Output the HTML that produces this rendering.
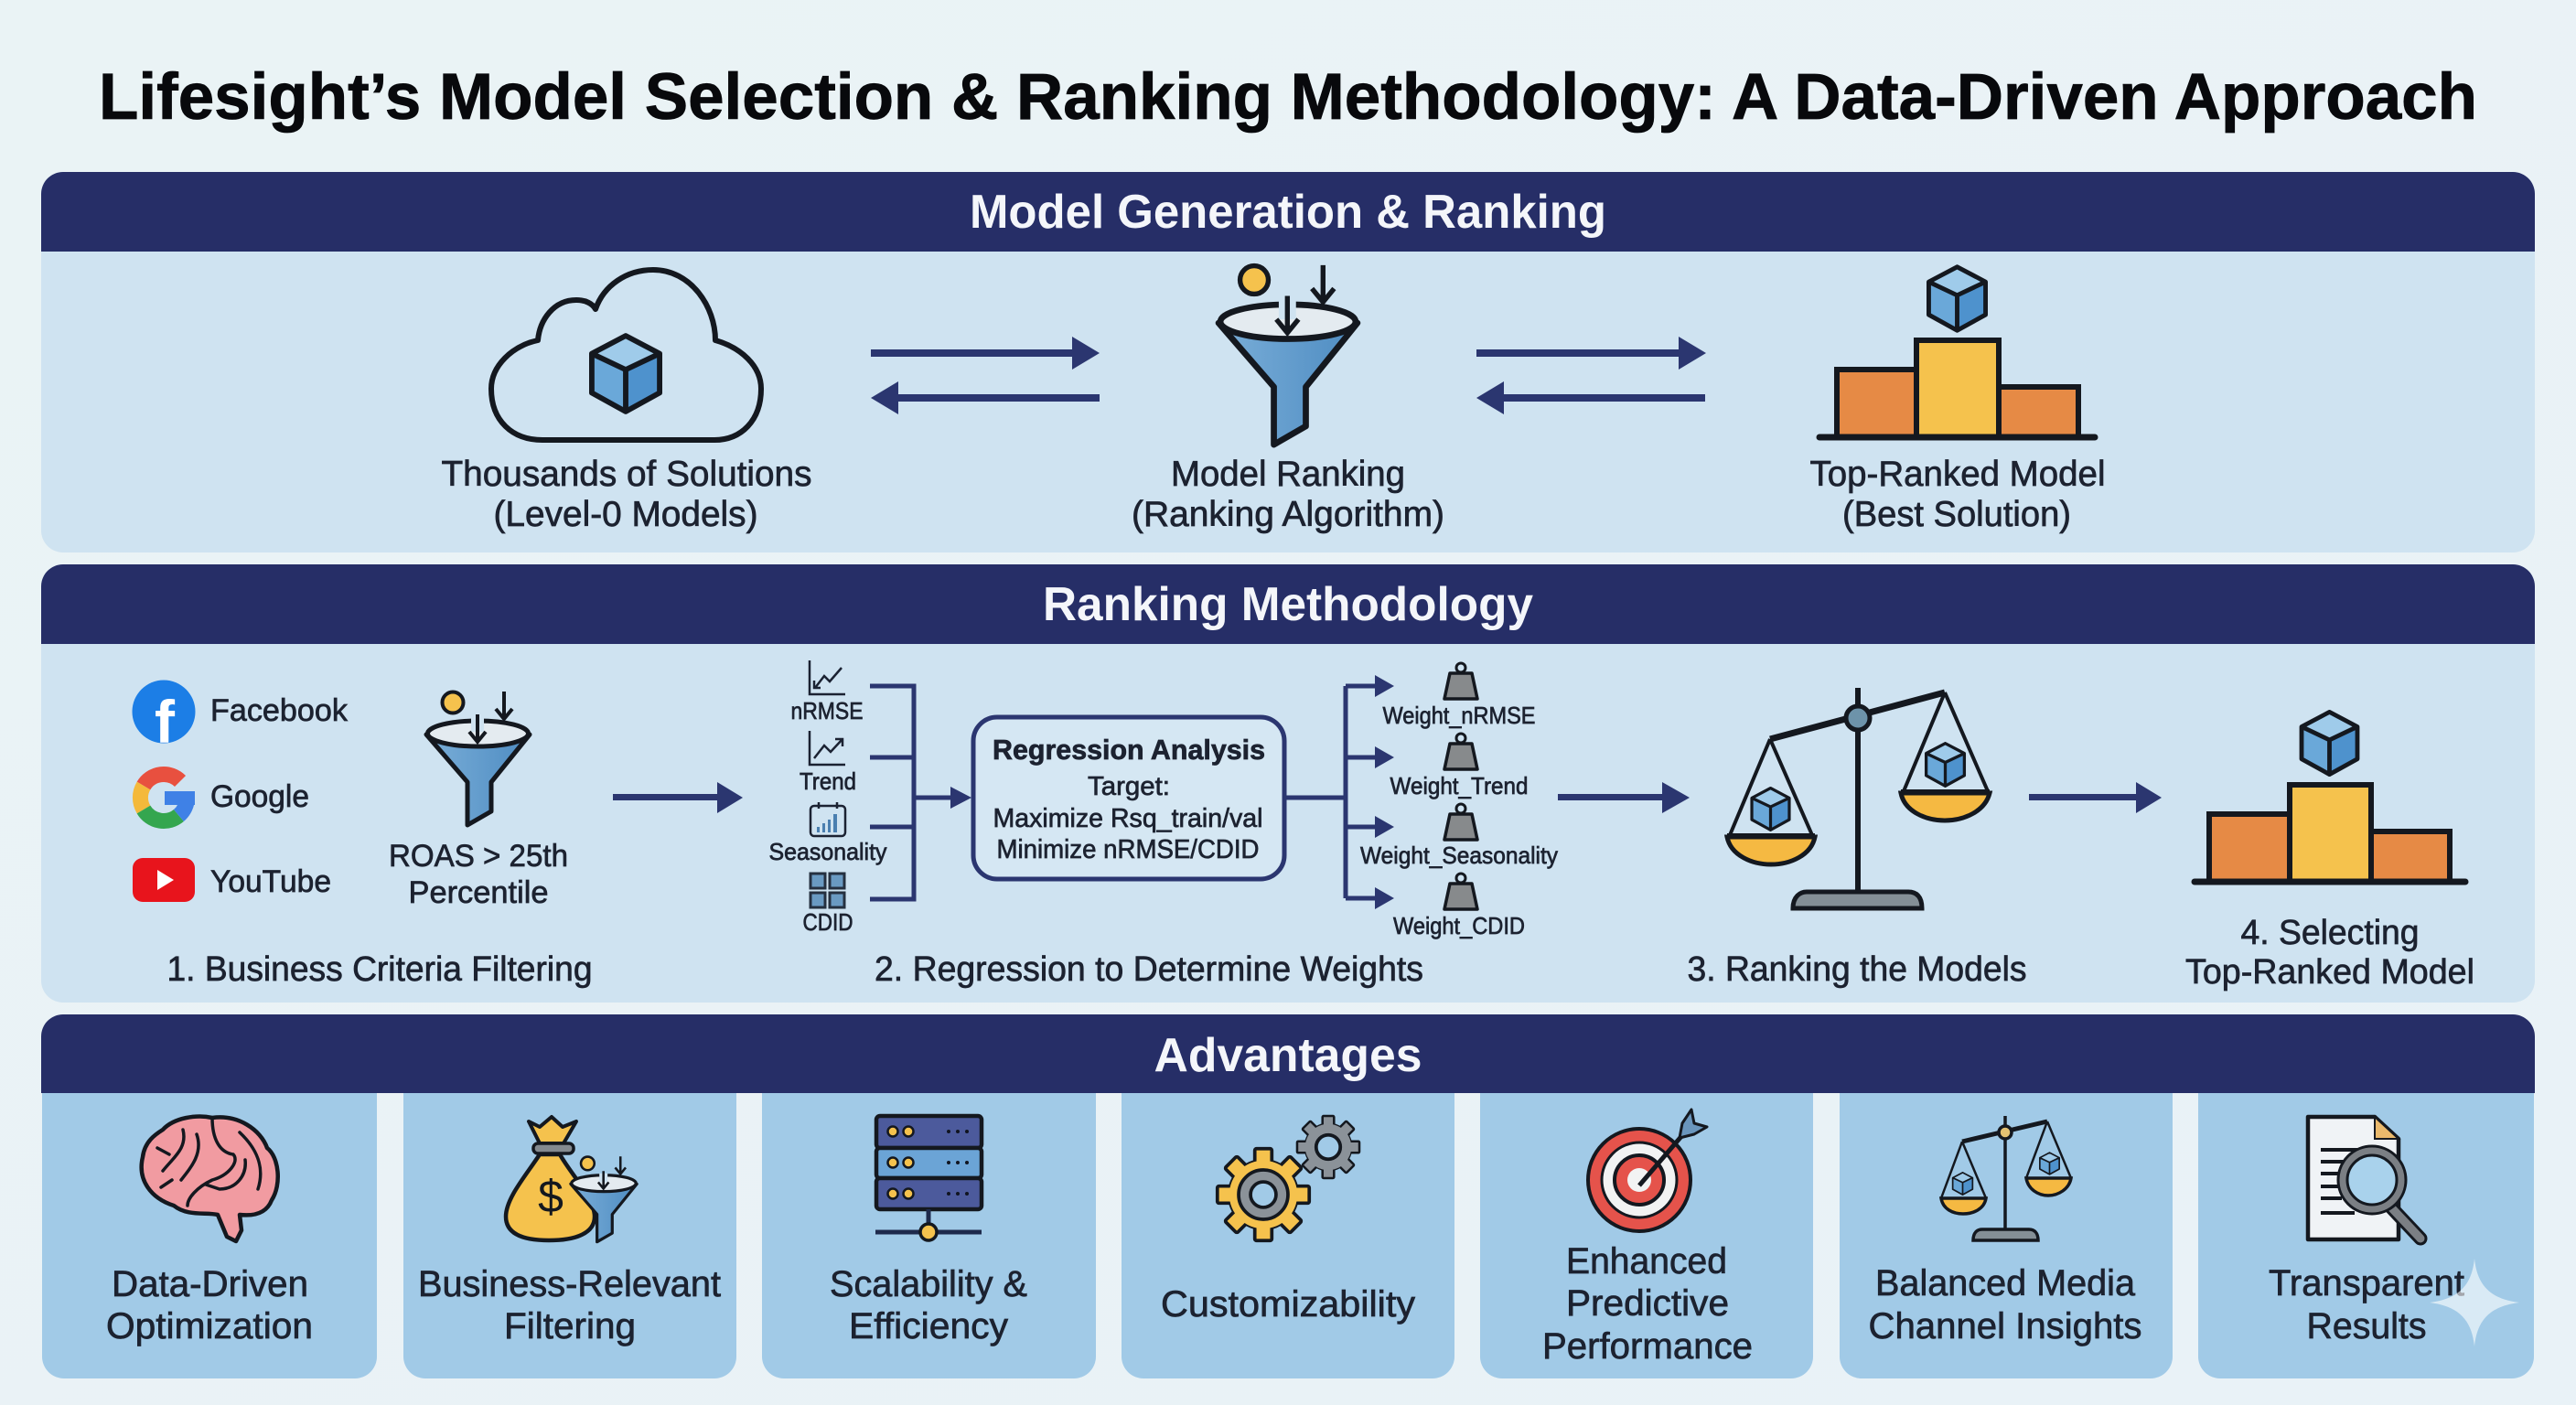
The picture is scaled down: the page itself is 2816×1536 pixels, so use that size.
<!DOCTYPE html>
<html><head><meta charset="utf-8"><title>Lifesight's Model Selection &amp; Ranking Methodology</title>
<style>
html,body{margin:0;padding:0;width:2816px;height:1536px;overflow:hidden;background:#eaf3f6}
svg{display:block}
text{font-family:"Liberation Sans",sans-serif;text-anchor:middle;fill:#1c2230;stroke:#1c2230;stroke-width:.7px}
.title{font-size:71px;font-weight:700;fill:#08090c;stroke:#08090c;stroke-width:.8px}
.hd{font-size:52px;font-weight:700;fill:#f4f6fa;stroke:none}
.l{font-size:39px}
.m{font-size:34px}
.s{font-size:26px}
.w{font-size:26px}
.card{font-size:40px}
.b{font-size:31px;font-weight:700}
</style></head><body>
<svg xmlns="http://www.w3.org/2000/svg" width="2816" height="1536" viewBox="0 0 2816 1536">
<defs>
<linearGradient id="bg" x1="0" y1="0" x2="1" y2="1"><stop offset="0" stop-color="#eaf3f5"/><stop offset="1" stop-color="#e9f2f7"/></linearGradient>
<linearGradient id="cone" x1="0" y1="0" x2="1" y2="0"><stop offset="0" stop-color="#7aaed8"/><stop offset="1" stop-color="#4e8cc2"/></linearGradient>
<symbol id="cube" viewBox="-3 -3 82 91">
<path d="M38 0L76 20V64L38 85L0 64V20Z" fill="#6aa8d9"/>
<path d="M38 0L76 20L38 38L0 20Z" fill="#9fcbea"/>
<path d="M38 38L76 20V64L38 85Z" fill="#4e92cd"/>
<path d="M38 0L76 20V64L38 85L0 64V20ZM0 20L38 38L76 20M38 38V85" fill="none" stroke="#14181f" stroke-width="6" stroke-linejoin="round"/>
</symbol>
<symbol id="funnel" viewBox="460 745 125 165">
<path d="M466 803L511 855V902L537 887V855L579 803Z" fill="url(#cone)" stroke="#14181f" stroke-width="5" stroke-linejoin="round"/>
<ellipse cx="522.5" cy="802" rx="55" ry="14" fill="#e4ebf0" stroke="#14181f" stroke-width="5"/>
<circle cx="495" cy="768" r="11.500" fill="#f5c24d" stroke="#14181f" stroke-width="4"/>
<path d="M522 785V800" stroke="#cfe3f1" stroke-width="14"/>
<path d="M522 781V810M513 800L522 811L531 800" fill="none" stroke="#14181f" stroke-width="4"/>
<path d="M551 756V786M542 775L551 786L560 775" fill="none" stroke="#14181f" stroke-width="4"/>
</symbol>
<symbol id="weight" viewBox="1575 722 44 46">
<circle cx="1597" cy="730" r="5" fill="none" stroke="#14181f" stroke-width="3"/>
<path d="M1585 736H1609L1615 764H1579Z" fill="#878a8c" stroke="#14181f" stroke-width="3.500" stroke-linejoin="round"/>
</symbol>
<g id="teeth" stroke="#14181f" stroke-width="4">
<rect x="-10" y="-54" width="20" height="108" rx="2"/>
<rect x="-10" y="-54" width="20" height="108" rx="2" transform="rotate(45)"/>
<rect x="-10" y="-54" width="20" height="108" rx="2" transform="rotate(90)"/>
<rect x="-10" y="-54" width="20" height="108" rx="2" transform="rotate(135)"/>
</g>
</defs>

<rect width="2816" height="1536" fill="url(#bg)"/>
<text class="title" x="1408" y="130" textLength="2600" lengthAdjust="spacingAndGlyphs">Lifesight’s Model Selection &amp; Ranking Methodology: A Data-Driven Approach</text>

<!-- Panel 1 -->
<rect x="45" y="188" width="2726" height="416" rx="24" fill="#cfe3f1"/>
<path d="M45 275V212A24 24 0 0 1 69 188H2747A24 24 0 0 1 2771 212V275Z" fill="#262e67"/>
<text class="hd" x="1408" y="249" textLength="696" lengthAdjust="spacingAndGlyphs">Model Generation &amp; Ranking</text>

<path d="M593 481C560 481 537 460 537 425C537 400 560 378 588 372C590 350 605 328 630 328C640 328 648 332 651 338C660 312 685 295 714 295C755 295 782 335 782 372C810 380 832 400 832 425C832 460 810 481 781 481Z" fill="none" stroke="#14181f" stroke-width="6" stroke-linejoin="round"/>
<use href="#cube" x="644" y="364" width="80" height="89"/>
<text class="l" x="685" y="531" textLength="405" lengthAdjust="spacingAndGlyphs">Thousands of Solutions</text>
<text class="l" x="684" y="575" textLength="289" lengthAdjust="spacingAndGlyphs">(Level-0 Models)</text>

<g fill="#2b3670">
<rect x="952" y="382" width="224" height="8"/><polygon points="1172,368 1202,386 1172,404"/>
<rect x="978" y="431" width="224" height="8"/><polygon points="982,417 952,435 982,453"/>
<rect x="1614" y="382" width="224" height="8"/><polygon points="1835,368 1865,386 1835,404"/>
<rect x="1640" y="431" width="224" height="8"/><polygon points="1644,417 1614,435 1644,453"/>
</g>

<use href="#funnel" x="1324" y="275" width="168" height="222"/>
<text class="l" x="1408" y="531" textLength="256" lengthAdjust="spacingAndGlyphs">Model Ranking</text>
<text class="l" x="1408" y="575" textLength="342" lengthAdjust="spacingAndGlyphs">(Ranking Algorithm)</text>

<use href="#cube" x="2106" y="289" width="67" height="75"/>
<g stroke="#14181f" stroke-width="6">
<rect x="2008" y="404" width="87" height="74" fill="#e68a45"/>
<rect x="2095" y="372" width="90" height="106" fill="#f5c24d"/>
<rect x="2185" y="423" width="87" height="55" fill="#e68a45"/>
<path d="M1989 478H2290" stroke-width="7" stroke-linecap="round"/>
</g>
<text class="l" x="2140" y="531" textLength="323" lengthAdjust="spacingAndGlyphs">Top-Ranked Model</text>
<text class="l" x="2139" y="575" textLength="250" lengthAdjust="spacingAndGlyphs">(Best Solution)</text>

<!-- Panel 2 -->
<rect x="45" y="617" width="2726" height="479" rx="24" fill="#cfe3f1"/>
<path d="M45 704V641A24 24 0 0 1 69 617H2747A24 24 0 0 1 2771 641V704Z" fill="#262e67"/>
<text class="hd" x="1408" y="678" textLength="536" lengthAdjust="spacingAndGlyphs">Ranking Methodology</text>

<circle cx="179" cy="778" r="34.500" fill="#1c7ee6"/>
<text x="180" y="812" style="font-size:66px;font-weight:700;fill:#fff;stroke:none">f</text>
<text class="m" x="305" y="788" textLength="150" lengthAdjust="spacingAndGlyphs">Facebook</text>

<g fill="none" stroke-width="17">
<path d="M197 854A25.500 25.500 0 0 0 157 859" stroke="#e8503f"/>
<path d="M157 859A25.500 25.500 0 0 0 157 885" stroke="#f4b93b"/>
<path d="M157 885A25.500 25.500 0 0 0 195.400 891.500" stroke="#34a64f"/>
<path d="M195.400 891.500A25.500 25.500 0 0 0 204.500 872" stroke="#3f81e6"/>
</g>
<rect x="180" y="865" width="33" height="15" fill="#3f81e6"/>
<text class="m" x="284" y="882" textLength="108" lengthAdjust="spacingAndGlyphs">Google</text>

<rect x="145" y="938" width="68" height="48" rx="11" fill="#e8141c"/>
<polygon points="172,951 172,973 190,962" fill="#fff"/>
<text class="m" x="296" y="975" textLength="132" lengthAdjust="spacingAndGlyphs">YouTube</text>

<use href="#funnel" x="460" y="745" width="125" height="165"/>
<text class="m" x="523" y="947" textLength="196" lengthAdjust="spacingAndGlyphs">ROAS &gt; 25th</text>
<text class="m" x="523" y="987" textLength="153" lengthAdjust="spacingAndGlyphs">Percentile</text>
<text class="m" x="415" y="1072" style="font-size:38px" textLength="465" lengthAdjust="spacingAndGlyphs">1. Business Criteria Filtering</text>

<g fill="#2b3670">
<rect x="670" y="868" width="118" height="7"/><polygon points="784,855 812,872 784,889"/>
<rect x="1703" y="868" width="118" height="7"/><polygon points="1817,855 1847,872 1817,889"/>
<rect x="2218" y="868" width="121" height="7"/><polygon points="2335,855 2363,872 2335,889"/>
</g>

<!-- metric icons -->
<g fill="none" stroke="#1b2232" stroke-width="2.500">
<path d="M885 722V759H924"/>
<path d="M891 752L901 739L907 745L920 730"/>
<path d="M890 744V752H897"/>
<path d="M885 799V836H924"/>
<path d="M890 829L901 815L908 822L921 808M913 808H921V816"/>
<rect x="886" y="881" width="38" height="33" rx="4"/>
<path d="M895 877V884M915 877V884"/>
</g>
<g fill="#4a7fb0">
<rect x="893" y="904" width="3" height="6"/><rect x="899" y="900" width="3" height="10"/><rect x="905" y="896" width="3" height="14"/><rect x="911" y="890" width="4" height="20"/>
</g>
<g fill="#6a9ac2" stroke="#253040" stroke-width="3">
<rect x="886" y="955" width="16" height="16"/><rect x="907" y="955" width="16" height="16"/>
<rect x="886" y="976" width="16" height="16"/><rect x="907" y="976" width="16" height="16"/>
</g>
<text class="s" x="904" y="786" textLength="79" lengthAdjust="spacingAndGlyphs">nRMSE</text>
<text class="s" x="905" y="863" textLength="62" lengthAdjust="spacingAndGlyphs">Trend</text>
<text class="s" x="905" y="940" textLength="129" lengthAdjust="spacingAndGlyphs">Seasonality</text>
<text class="s" x="905" y="1017" textLength="55" lengthAdjust="spacingAndGlyphs">CDID</text>

<g fill="none" stroke="#2b3670" stroke-width="5">
<path d="M951 750H999V983H951M951 828H999M951 904H999M999 872H1045"/>
<path d="M1404 872H1471M1471 750V982M1471 750H1510M1471 828H1510M1471 904H1510M1471 982H1510"/>
</g>
<g fill="#2b3670">
<polygon points="1039,860 1062,872 1039,884"/>
<polygon points="1503,738 1524,750 1503,762"/>
<polygon points="1503,816 1524,828 1503,840"/>
<polygon points="1503,892 1524,904 1503,916"/>
<polygon points="1503,970 1524,982 1503,994"/>
</g>
<rect x="1064" y="784" width="340" height="177" rx="26" fill="#d5e7f3" stroke="#2b3670" stroke-width="5"/>
<text class="b" x="1234" y="830" textLength="298" lengthAdjust="spacingAndGlyphs">Regression Analysis</text>
<text class="s" style="font-size:29px" x="1234" y="869" textLength="90" lengthAdjust="spacingAndGlyphs">Target:</text>
<text class="s" style="font-size:29px" x="1233" y="904" textLength="295" lengthAdjust="spacingAndGlyphs">Maximize Rsq_train/val</text>
<text class="s" style="font-size:29px" x="1233" y="938" textLength="287" lengthAdjust="spacingAndGlyphs">Minimize nRMSE/CDID</text>

<use href="#weight" x="1575" y="722" width="44" height="46"/>
<use href="#weight" x="1575" y="799" width="44" height="46"/>
<use href="#weight" x="1575" y="876" width="44" height="46"/>
<use href="#weight" x="1575" y="952" width="44" height="46"/>
<text class="w" x="1595" y="791" textLength="167" lengthAdjust="spacingAndGlyphs">Weight_nRMSE</text>
<text class="w" x="1595" y="868" textLength="151" lengthAdjust="spacingAndGlyphs">Weight_Trend</text>
<text class="w" x="1595" y="944" textLength="216" lengthAdjust="spacingAndGlyphs">Weight_Seasonality</text>
<text class="w" x="1595" y="1021" textLength="144" lengthAdjust="spacingAndGlyphs">Weight_CDID</text>
<text class="m" style="font-size:38px" x="1256" y="1072" textLength="600" lengthAdjust="spacingAndGlyphs">2. Regression to Determine Weights</text>

<!-- big scales -->
<g fill="none" stroke="#14181f" stroke-linejoin="round">
<path d="M2031 752V975" stroke-width="6"/>
<path d="M1935 808L2126 757" stroke-width="7"/>
<path d="M1935 808L1891 913M1935 808L1981 913M2126 757L2081 865M2126 757L2173 865" stroke-width="4"/>
</g>
<use href="#cube" x="1913" y="860" width="45" height="49"/>
<use href="#cube" x="2103" y="811" width="47" height="50"/>
<g stroke="#14181f" stroke-width="5">
<path d="M1888 915C1892 935 1915 945 1936 945C1957 945 1980 935 1984 915Z" fill="#f5b942"/>
<path d="M2078 867C2082 887 2105 897 2126 897C2147 897 2170 887 2175 867Z" fill="#f5b942"/>
<path d="M1888 914H1984M2078 866H2175" stroke-width="6"/>
<circle cx="2031" cy="785" r="13" fill="#6d93aa"/>
<path d="M1960 993C1960 980 1968 975 1975 975H2086C2095 975 2101 980 2101 993Z" fill="#848f96"/>
</g>
<text class="m" style="font-size:38px" x="2030" y="1072" textLength="371" lengthAdjust="spacingAndGlyphs">3. Ranking the Models</text>

<!-- small podium -->
<use href="#cube" x="2513" y="776" width="67" height="73"/>
<g stroke="#14181f" stroke-width="6">
<rect x="2415" y="890" width="88" height="74" fill="#e68a45"/>
<rect x="2503" y="858" width="89" height="106" fill="#f5c24d"/>
<rect x="2592" y="909" width="86" height="55" fill="#e68a45"/>
<path d="M2399 964H2695" stroke-width="7" stroke-linecap="round"/>
</g>
<text class="m" style="font-size:38px" x="2547" y="1032" textLength="195" lengthAdjust="spacingAndGlyphs">4. Selecting</text>
<text class="m" style="font-size:38px" x="2547" y="1075" textLength="316" lengthAdjust="spacingAndGlyphs">Top-Ranked Model</text>

<!-- Panel 3 -->
<path d="M45 1133A24 24 0 0 1 69 1109H2747A24 24 0 0 1 2771 1133V1195H45Z" fill="#262e67"/>
<text class="hd" x="1408" y="1171" textLength="293" lengthAdjust="spacingAndGlyphs">Advantages</text>
<g fill="#a1cae7">
<path d="M46 1195H412V1483A24 24 0 0 1 388 1507H70A24 24 0 0 1 46 1483Z"/>
<path d="M441 1195H805V1483A24 24 0 0 1 781 1507H465A24 24 0 0 1 441 1483Z"/>
<path d="M833 1195H1198V1483A24 24 0 0 1 1174 1507H857A24 24 0 0 1 833 1483Z"/>
<path d="M1226 1195H1590V1483A24 24 0 0 1 1566 1507H1250A24 24 0 0 1 1226 1483Z"/>
<path d="M1618 1195H1982V1483A24 24 0 0 1 1958 1507H1642A24 24 0 0 1 1618 1483Z"/>
<path d="M2011 1195H2375V1483A24 24 0 0 1 2351 1507H2035A24 24 0 0 1 2011 1483Z"/>
<path d="M2403 1195H2770V1483A24 24 0 0 1 2746 1507H2427A24 24 0 0 1 2403 1483Z"/>
</g>

<!-- brain -->
<path d="M262 1322C275 1328 284 1322 288 1310L262 1300Z" fill="#e3646c" stroke="#14181f" stroke-width="4"/>
<path d="M190 1318C165 1310 150 1290 156 1265C158 1248 170 1240 178 1235C190 1222 215 1218 232 1222C260 1218 285 1235 292 1255C305 1265 308 1295 297 1312C292 1325 280 1330 262 1328L264 1345L258 1357L248 1352L238 1328C225 1325 205 1330 190 1318Z" fill="#f19ba1" stroke="#14181f" stroke-width="4.500" stroke-linejoin="round"/>
<g fill="none" stroke="#14181f" stroke-width="3.500" stroke-linecap="round">
<path d="M200 1235C205 1255 190 1265 178 1280M215 1240C222 1260 210 1275 198 1290"/>
<path d="M232 1222C232 1245 240 1260 255 1262C262 1270 250 1285 232 1290C215 1298 205 1310 205 1318"/>
<path d="M262 1238C280 1255 290 1275 282 1300M268 1268C270 1285 258 1300 240 1300L225 1295"/>
<path d="M172 1255L185 1262M176 1298L188 1290"/>
</g>
<text class="card" x="229.500" y="1417" textLength="215" lengthAdjust="spacingAndGlyphs">Data-Driven</text>
<text class="card" x="229" y="1463" textLength="226" lengthAdjust="spacingAndGlyphs">Optimization</text>

<!-- money bag -->
<path d="M590 1262C575 1285 553 1310 553 1330C553 1348 570 1356 600 1356C630 1356 650 1348 650 1330C650 1310 625 1285 612 1262Z" fill="#f5c24d" stroke="#14181f" stroke-width="4.500" stroke-linejoin="round"/>
<path d="M590 1250L578 1226L590 1232L603 1221L615 1232L630 1226L616 1250Z" fill="#f5c24d" stroke="#14181f" stroke-width="4" stroke-linejoin="round"/>
<rect x="583" y="1250" width="44" height="11" rx="5" fill="#848a8f" stroke="#14181f" stroke-width="3.500"/>
<text x="602" y="1325" style="font-size:50px;fill:#14181f;stroke:none">$</text>
<use href="#funnel" x="620" y="1257" width="80" height="106"/>
<text class="card" x="622.500" y="1417" textLength="331" lengthAdjust="spacingAndGlyphs">Business-Relevant</text>
<text class="card" x="623" y="1463" textLength="144" lengthAdjust="spacingAndGlyphs">Filtering</text>

<!-- server -->
<g stroke="#14181f" stroke-width="4.500">
<rect x="958" y="1220" width="115" height="35" rx="4" fill="#4c5a9c"/>
<rect x="958" y="1255" width="115" height="33" rx="4" fill="#6ba4d6"/>
<rect x="958" y="1288" width="115" height="34" rx="4" fill="#4c5a9c"/>
<path d="M1015 1322V1347M957 1347H1073" stroke="#1e2a4c" stroke-width="5"/>
</g>
<circle cx="1015" cy="1347" r="9" fill="#f5c24d" stroke="#14181f" stroke-width="3.500"/>
<g fill="#f5c24d" stroke="#14181f" stroke-width="2.500">
<circle cx="976" cy="1237" r="5.500"/><circle cx="993" cy="1237" r="5.500"/>
<circle cx="976" cy="1271" r="5.500"/><circle cx="993" cy="1271" r="5.500"/>
<circle cx="976" cy="1305" r="5.500"/><circle cx="993" cy="1305" r="5.500"/>
</g>
<g fill="#101420">
<circle cx="1037" cy="1237" r="2"/><circle cx="1047" cy="1237" r="2"/><circle cx="1057" cy="1237" r="2"/>
<circle cx="1037" cy="1271" r="2"/><circle cx="1047" cy="1271" r="2"/><circle cx="1057" cy="1271" r="2"/>
<circle cx="1037" cy="1305" r="2"/><circle cx="1047" cy="1305" r="2"/><circle cx="1057" cy="1305" r="2"/>
</g>
<text class="card" x="1015" y="1417" textLength="216" lengthAdjust="spacingAndGlyphs">Scalability &amp;</text>
<text class="card" x="1015" y="1463" textLength="174" lengthAdjust="spacingAndGlyphs">Efficiency</text>

<!-- gears -->
<g transform="translate(1381,1306) scale(.93)">
<circle r="42" fill="#14181f"/><use href="#teeth" fill="#f5c24d"/><circle r="40" fill="#f5c24d"/>
<circle r="29" fill="#8b9299" stroke="#14181f" stroke-width="4"/><circle r="15" fill="#a1cae7" stroke="#14181f" stroke-width="4"/>
</g>
<g transform="translate(1452,1254) scale(.63)">
<circle r="42" fill="#14181f"/><use href="#teeth" fill="#8b9299"/><circle r="40" fill="#8b9299"/>
<circle r="21" fill="#a1cae7" stroke="#14181f" stroke-width="6"/>
</g>
<text class="card" x="1408" y="1439" textLength="278" lengthAdjust="spacingAndGlyphs">Customizability</text>

<!-- target -->
<circle cx="1792" cy="1290" r="56" fill="#e5534b" stroke="#14181f" stroke-width="4"/>
<circle cx="1792" cy="1290" r="41" fill="#f2f3f3" stroke="#14181f" stroke-width="3"/>
<circle cx="1792" cy="1290" r="27" fill="#e5534b" stroke="#14181f" stroke-width="4"/>
<circle cx="1792" cy="1290" r="13" fill="#f2f3f3"/>
<path d="M1792 1296L1840 1240" stroke="#14181f" stroke-width="5"/>
<path d="M1836 1244L1839 1228L1849 1213L1852 1228L1866 1232L1852 1240Z" fill="#6a96bd" stroke="#14181f" stroke-width="3" stroke-linejoin="round"/>
<text class="card" x="1800" y="1392" textLength="176" lengthAdjust="spacingAndGlyphs">Enhanced</text>
<text class="card" x="1801" y="1438" textLength="178" lengthAdjust="spacingAndGlyphs">Predictive</text>
<text class="card" x="1801" y="1485" textLength="230" lengthAdjust="spacingAndGlyphs">Performance</text>

<!-- small scales -->
<g fill="none" stroke="#14181f" stroke-linejoin="round">
<path d="M2192 1220V1344" stroke-width="3.500"/>
<path d="M2145 1248L2238 1226" stroke-width="5"/>
<path d="M2145 1248L2122 1310M2145 1248L2171 1310M2238 1226L2215 1288M2238 1226L2264 1288" stroke-width="2.500"/>
</g>
<use href="#cube" x="2133" y="1281" width="25" height="26"/>
<use href="#cube" x="2229" y="1259" width="23" height="26"/>
<g stroke="#14181f" stroke-width="3.500">
<path d="M2122 1310C2124 1322 2135 1327 2146 1327C2157 1327 2169 1322 2171 1310Z" fill="#f5b942"/>
<path d="M2215 1288C2217 1300 2228 1307 2239 1307C2250 1307 2262 1300 2264 1288Z" fill="#f5b942"/>
<circle cx="2192" cy="1238" r="7" fill="#e4c272"/>
<path d="M2157 1356C2157 1348 2161 1344 2167 1344H2218C2224 1344 2228 1348 2228 1356Z" fill="#848f96"/>
</g>
<text class="card" x="2192" y="1416" textLength="284" lengthAdjust="spacingAndGlyphs">Balanced Media</text>
<text class="card" x="2192" y="1463" textLength="299" lengthAdjust="spacingAndGlyphs">Channel Insights</text>

<!-- document -->
<path d="M2523 1221H2596L2622 1245V1355H2523Z" fill="#f0f3f6" stroke="#14181f" stroke-width="4.500" stroke-linejoin="round"/>
<path d="M2596 1221V1245H2622Z" fill="#eab96c" stroke="#14181f" stroke-width="2"/>
<path d="M2537 1257H2586M2537 1270H2562M2537 1283H2556M2537 1297H2556M2537 1310H2560M2537 1326H2574" stroke="#14181f" stroke-width="4"/>
<path d="M2614 1320L2646 1354" stroke="#14181f" stroke-width="15" stroke-linecap="round"/>
<path d="M2614 1320L2646 1354" stroke="#7b7f84" stroke-width="9" stroke-linecap="round"/>
<circle cx="2593" cy="1290" r="32" fill="#a9d2ec" stroke="#14181f" stroke-width="13"/>
<circle cx="2593" cy="1290" r="32" fill="none" stroke="#7b7f84" stroke-width="7"/>
<text class="card" x="2587" y="1416" textLength="214" lengthAdjust="spacingAndGlyphs">Transparent</text>
<text class="card" x="2587" y="1463" textLength="131" lengthAdjust="spacingAndGlyphs">Results</text>

<!-- sparkle -->
<path d="M2705 1376C2708 1405 2722 1420 2754 1424C2722 1428 2708 1443 2705 1472C2702 1443 2688 1428 2656 1424C2688 1420 2702 1405 2705 1376Z" fill="#fff" opacity=".6"/>
</svg>
</body></html>
